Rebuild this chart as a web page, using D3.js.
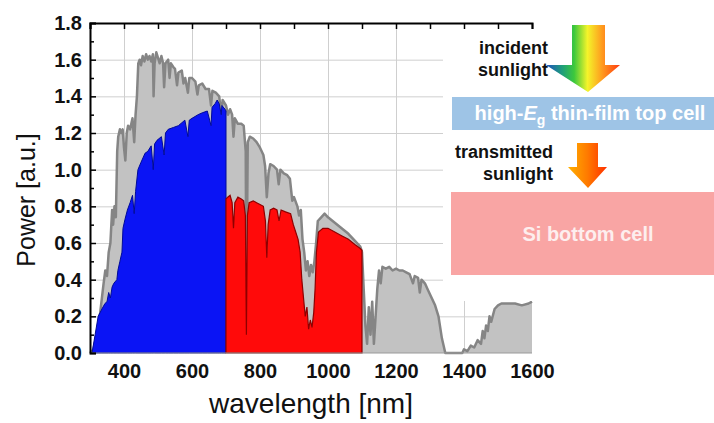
<!DOCTYPE html>
<html>
<head>
<meta charset="utf-8">
<script src="https://cdn.jsdelivr.net/npm/d3@7"></script>
<style>
	body { margin: 0; background: #fff; }
	svg { display: block; font-family: Arial, "Liberation Sans", sans-serif; }
</style>
</head>
<body>
<svg id="chart" width="714" height="423"></svg>
<script>

// full spectrum (grey), [wavelength nm, power a.u.]
var spectrum = [
	[300, 0], [310, 0.02], [320, 0.10], [330, 0.22], [340, 0.38], [345, 0.45], [350, 0.42],
	[355, 0.55], [360, 0.60], [365, 0.78], [368, 0.70], [372, 0.80], [376, 0.74], [380, 1.10],
	[383, 1.18], [388, 1.22], [392, 1.20], [396, 1.22], [400, 1.12], [404, 1.05], [408, 1.20],
	[412, 1.24], [418, 1.22], [425, 1.28], [430, 1.15], [434, 1.30], [438, 1.40], [442, 1.58],
	[446, 1.60], [450, 1.57], [455, 1.62], [460, 1.59], [465, 1.63], [470, 1.60], [475, 1.62],
	[480, 1.59], [485, 1.63], [487, 1.40], [490, 1.58], [495, 1.64], [500, 1.61], [505, 1.58],
	[510, 1.62], [515, 1.58], [518, 1.45], [522, 1.58], [530, 1.60], [534, 1.50], [538, 1.58],
	[545, 1.56], [550, 1.55], [556, 1.46], [560, 1.53], [570, 1.54], [575, 1.47], [580, 1.50],
	[588, 1.42], [592, 1.50], [600, 1.50], [610, 1.48], [616, 1.41], [620, 1.46], [630, 1.47],
	[640, 1.44], [650, 1.44], [656, 1.35], [660, 1.43], [670, 1.42],
	[680, 1.40], [686, 1.30], [690, 1.38], [700, 1.35], [706, 1.30], [712, 1.33], [718, 1.30],
	[722, 1.18], [726, 1.28], [735, 1.25], [745, 1.25], [752, 1.24], [758, 1.10], [760, 0.30],
	[764, 1.15], [770, 1.18], [780, 1.17], [790, 1.15], [800, 1.12], [810, 1.08], [815, 1.02],
	[820, 0.85], [825, 0.98], [830, 1.03], [840, 1.02], [850, 1.00], [855, 0.92], [860, 1.00],
	[870, 0.98], [880, 0.97], [888, 0.95], [895, 0.83], [900, 0.85], [910, 0.80], [915, 0.75],
	[920, 0.78], [925, 0.62], [930, 0.55], [935, 0.45], [940, 0.50], [945, 0.42], [950, 0.48],
	[955, 0.44], [960, 0.50], [965, 0.60], [970, 0.72], [980, 0.74], [990, 0.76], [1000, 0.74],
	[1020, 0.71], [1040, 0.68], [1060, 0.65], [1080, 0.61], [1095, 0.58], [1100, 0.55],
	[1105, 0.35], [1110, 0.15], [1115, 0.05], [1120, 0.25], [1125, 0.10], [1130, 0.28],
	[1135, 0.05], [1140, 0.20], [1145, 0.35], [1150, 0.45], [1155, 0.38], [1160, 0.47],
	[1170, 0.46], [1180, 0.47], [1190, 0.45], [1200, 0.46], [1210, 0.45], [1220, 0.45],
	[1230, 0.44], [1240, 0.43], [1250, 0.38], [1255, 0.42], [1265, 0.41], [1270, 0.33],
	[1275, 0.40], [1285, 0.38], [1295, 0.34], [1305, 0.30], [1315, 0.26], [1325, 0.20],
	[1335, 0.08], [1345, 0], [1395, 0], [1400, 0.02], [1410, 0.01], [1420, 0.04], [1430, 0.03],
	[1440, 0.07], [1450, 0.05], [1455, 0.12], [1460, 0.08], [1465, 0.15], [1470, 0.12],
	[1475, 0.20], [1480, 0.17], [1490, 0.24], [1500, 0.26], [1510, 0.27], [1530, 0.27],
	[1550, 0.27], [1570, 0.26], [1590, 0.27], [1600, 0.28]
];

// part absorbed by the top cell (blue)
var topCell = [
	[306, 0], [315, 0.10], [324, 0.20], [335, 0.24], [344, 0.27], [350, 0.28], [355, 0.33],
	[360, 0.30], [365, 0.36], [370, 0.38], [379, 0.40], [382, 0.45], [388, 0.50], [394, 0.55],
	[397, 0.68], [403, 0.73], [410, 0.78], [418, 0.82], [425, 0.86], [430, 0.76], [434, 0.88],
	[441, 1.00], [450, 1.04], [462, 1.09], [470, 1.10], [480, 1.13], [486, 1.00], [490, 1.14],
	[497, 1.16], [510, 1.18], [518, 1.08], [522, 1.20], [530, 1.22], [545, 1.23], [560, 1.24],
	[579, 1.27], [588, 1.18], [592, 1.27], [600, 1.28], [618, 1.30], [630, 1.31], [645, 1.32],
	[656, 1.24], [659, 1.34], [668, 1.36], [674, 1.38], [680, 1.36], [686, 1.30], [688, 1.35],
	[697, 1.33], [700, 1.32]
];

// part absorbed by the Si bottom cell (red)
var bottomCell = [
	[700, 0.84], [705, 0.85], [712, 0.86], [718, 0.82], [722, 0.68], [726, 0.82], [735, 0.85],
	[745, 0.84], [752, 0.83], [757, 0.75], [760, 0.10], [763, 0.75], [768, 0.82], [780, 0.83],
	[790, 0.82], [800, 0.81], [810, 0.80], [816, 0.72], [820, 0.52], [824, 0.70], [830, 0.78],
	[840, 0.79], [850, 0.78], [856, 0.72], [862, 0.78], [875, 0.77], [890, 0.76], [898, 0.70],
	[905, 0.66], [912, 0.62], [918, 0.55], [923, 0.40], [928, 0.30], [933, 0.20], [938, 0.25],
	[943, 0.13], [948, 0.18], [953, 0.14], [958, 0.22], [962, 0.35], [966, 0.55], [972, 0.66],
	[985, 0.68], [1000, 0.68], [1020, 0.66], [1040, 0.64], [1060, 0.62], [1080, 0.59],
	[1095, 0.57], [1100, 0.56]
];

var xTicks = [400, 600, 800, 1000, 1200, 1400, 1600];
var xMinor = [300, 400, 500, 600, 700, 800, 900, 1000, 1100, 1200, 1300, 1400, 1500, 1600];
var xGrid = [400, 600, 800, 1000, 1200, 1400];
var yTicks = [0, 0.2, 0.4, 0.6, 0.8, 1.0, 1.2, 1.4, 1.6, 1.8];
var yMinor = [0.1, 0.3, 0.5, 0.7, 0.9, 1.1, 1.3, 1.5, 1.7];
var yGrid = [0.2, 0.4, 0.6, 0.8, 1.0, 1.2, 1.4, 1.6];


var svg = d3.select("#chart");

var x = d3.scaleLinear().domain([300, 1600]).range([90, 532]);
var y = d3.scaleLinear().domain([0, 1.8]).range([353, 23]);

// grid
svg.append("g")
	.attr("transform", "translate(0,353)")
	.call(d3.axisBottom(x).tickValues(xGrid).tickSize(-330).tickFormat(""))
	.call(function(g) { g.select(".domain").remove(); })
	.selectAll("line").attr("stroke", "#cfcfcf");

svg.append("g")
	.attr("transform", "translate(90,0)")
	.call(d3.axisLeft(y).tickValues(yGrid).tickSize(-442).tickFormat(""))
	.call(function(g) { g.select(".domain").remove(); })
	.selectAll("line").attr("stroke", "#cfcfcf");

var area = d3.area()
	.x(function(d) { return x(d[0]); })
	.y0(y(0))
	.y1(function(d) { return y(d[1]); });

var line = d3.line()
	.x(function(d) { return x(d[0]); })
	.y(function(d) { return y(d[1]); });

svg.append("path")
	.datum(spectrum)
	.attr("d", area)
	.style("fill", "#c2c2c2");

svg.append("path")
	.datum(spectrum)
	.attr("d", line)
	.style("fill", "none")
	.style("stroke", "#858585")
	.attr("stroke-width", 2.5)
	.attr("stroke-linejoin", "round");

svg.append("path")
	.datum(topCell)
	.attr("d", area)
	.style("fill", "#0a14f5")
	.style("stroke", "#000a9a")
	.attr("stroke-width", 1);

svg.append("path")
	.datum(bottomCell)
	.attr("d", area)
	.style("fill", "#ff0a0a")
	.style("stroke", "#8e0000")
	.attr("stroke-width", 1.2);

// bottom line of the plot
svg.append("line")
	.attr("x1", x(300)).attr("x2", x(1600))
	.attr("y1", y(0)).attr("y2", y(0))
	.style("stroke", "#9a9a9a")
	.attr("stroke-width", 1.2);

// white panel for the cell sketch
svg.append("rect")
	.attr("x", 443).attr("y", 26)
	.attr("width", 271).attr("height", 275)
	.style("fill", "#fff");

// axes
var leftAxis = svg.append("g")
	.attr("transform", "translate(90,0)")
	.call(d3.axisLeft(y).tickValues(yTicks).tickSize(-6).tickPadding(8)
		.tickFormat(d3.format(".1f")));
leftAxis.select(".domain").attr("stroke-width", 2);
leftAxis.selectAll("line").attr("stroke-width", 1.5);
leftAxis.selectAll("text")
	.style("font-size", "20px")
	.style("font-weight", "bold")
	.attr("fill", "#111");

svg.append("g")
	.attr("transform", "translate(90,0)")
	.call(d3.axisLeft(y).tickValues(yMinor).tickSize(-4).tickFormat(""))
	.call(function(g) { g.select(".domain").remove(); })
	.selectAll("line").attr("stroke-width", 1.5);

var topAxis = svg.append("g")
	.attr("transform", "translate(0,23)")
	.call(d3.axisTop(x).tickValues(xMinor).tickSize(-6).tickFormat(""));
topAxis.select(".domain").attr("stroke-width", 2);
topAxis.selectAll("line").attr("stroke-width", 1.5);

var bottomAxis = svg.append("g")
	.attr("transform", "translate(0,353)")
	.call(d3.axisBottom(x).tickValues(xTicks).tickSize(0).tickPadding(11)
		.tickFormat(d3.format("d")));
bottomAxis.select(".domain").remove();
bottomAxis.selectAll("text")
	.style("font-size", "20px")
	.style("font-weight", "bold")
	.attr("fill", "#111");

svg.append("text")
	.attr("x", 311)
	.attr("y", 413)
	.attr("text-anchor", "middle")
	.style("font-size", "28px")
	.attr("fill", "#111")
	.text("wavelength [nm]");

svg.append("text")
	.attr("transform", "translate(35,200) rotate(-90)")
	.attr("text-anchor", "middle")
	.style("font-size", "25px")
	.attr("fill", "#111")
	.text("Power [a.u.]");

// cell sketch
var defs = svg.append("defs");

var rainbow = defs.append("linearGradient")
	.attr("id", "rainbow")
	.attr("gradientUnits", "userSpaceOnUse")
	.attr("x1", 546).attr("x2", 620).attr("y1", 0).attr("y2", 0);
rainbow.selectAll("stop")
	.data([["0%", "#1f4fc0"], ["22%", "#1f9f7a"], ["38%", "#3cc83c"], ["56%", "#f4f42a"], ["76%", "#ff9a1e"], ["100%", "#ff3a10"]])
	.enter()
	.append("stop")
	.attr("offset", function(d) { return d[0]; })
	.attr("stop-color", function(d) { return d[1]; });

var orange = defs.append("linearGradient")
	.attr("id", "orange")
	.attr("gradientUnits", "userSpaceOnUse")
	.attr("x1", 568).attr("x2", 607).attr("y1", 0).attr("y2", 0);
orange.selectAll("stop")
	.data([["0%", "#ffb000"], ["50%", "#ff7a00"], ["100%", "#ff3000"]])
	.enter()
	.append("stop")
	.attr("offset", function(d) { return d[0]; })
	.attr("stop-color", function(d) { return d[1]; });

svg.append("path")
	.attr("d", "M572,25 L605,25 L605,65 L620,65 L588,92 L546,65 L572,65 Z")
	.style("fill", "url(#rainbow)");

svg.append("path")
	.attr("d", "M577,143 L598,143 L598,167 L607,167 L588,188 L568,167 L577,167 Z")
	.style("fill", "url(#orange)");

svg.append("rect")
	.attr("x", 452).attr("y", 97)
	.attr("width", 262).attr("height", 33)
	.style("fill", "#9ec4e6");

svg.append("rect")
	.attr("x", 451).attr("y", 192)
	.attr("width", 263).attr("height", 83)
	.style("fill", "#f9a5a4");

var labels = [
	{ t: "incident", x: 548, y: 54 },
	{ t: "sunlight", x: 548, y: 76 },
	{ t: "transmitted", x: 553, y: 158 },
	{ t: "sunlight", x: 553, y: 180 }
];

svg.selectAll("text.lab")
	.data(labels)
	.enter()
	.append("text")
	.attr("class", "lab")
	.attr("x", function(d) { return d.x; })
	.attr("y", function(d) { return d.y; })
	.attr("text-anchor", "end")
	.style("font-size", "18px")
	.style("font-weight", "bold")
	.attr("fill", "#111")
	.text(function(d) { return d.t; });

var cellTop = svg.append("text")
	.attr("x", 590)
	.attr("y", 120)
	.attr("text-anchor", "middle")
	.style("font-size", "20px")
	.style("font-weight", "bold")
	.attr("fill", "#fff");
cellTop.append("tspan").text("high-");
cellTop.append("tspan").style("font-style", "italic").text("E");
cellTop.append("tspan").attr("dy", 5).style("font-size", "14px").text("g");
cellTop.append("tspan").attr("dy", -5).text(" thin-film top cell");

svg.append("text")
	.attr("x", 588)
	.attr("y", 241)
	.attr("text-anchor", "middle")
	.style("font-size", "20px")
	.style("font-weight", "bold")
	.attr("fill", "#fdeeee")
	.text("Si bottom cell");

</script>
</body>
</html>
